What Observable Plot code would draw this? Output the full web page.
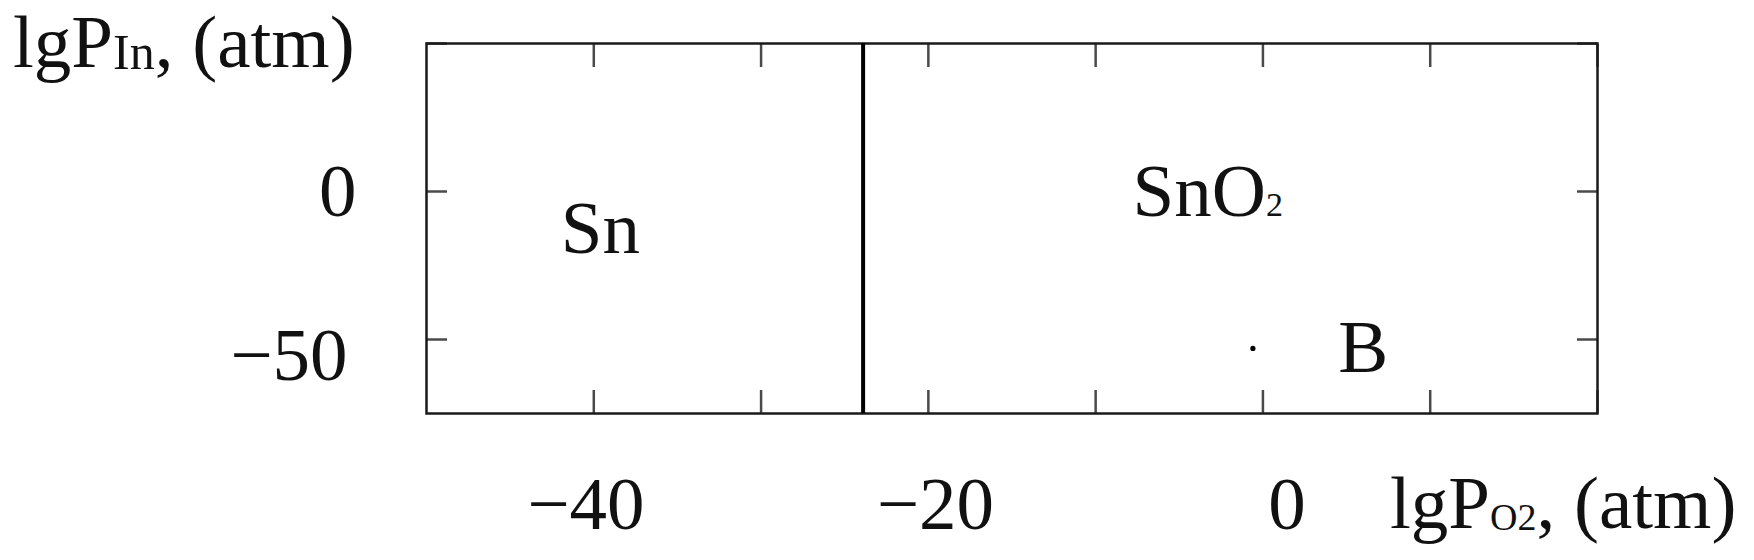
<!DOCTYPE html>
<html>
<head>
<meta charset="utf-8">
<script src="https://cdn.jsdelivr.net/npm/d3@7"></script>
<script src="https://cdn.jsdelivr.net/npm/@observablehq/plot@0.6"></script>
<style>
  html, body { margin: 0; padding: 0; background: #fff; }
  #chart svg { display: block; }
</style>
</head>
<body>
<div id="chart"></div>
<script>
// ---- data ----
const xDomain = [-50, 20];          // lg P(O2), atm
const yDomain = [-75, 50];          // lg P(In), atm
const xTickValues = [-40, -30, -20, -10, 0, 10, 20];
const yTickValues = [-50, 0, 50];
const boundaryX = [-23.9];          // Sn / SnO2 phase boundary
const pointName = ["B"];
const pointX = [-0.6];
const pointY = [-53];
const labelPointX = [6.0];
const labelPointY = [-53];
const regionNames = ["Sn", "SnO2"];
const regionX = [-39.6, -3.3];
const regionY = [-12.8, 0];

const points = pointName.map((n, i) => ({name: n, x: pointX[i], y: pointY[i], lx: labelPointX[i], ly: labelPointY[i]}));
const regions = regionNames.map((n, i) => ({name: n, x: regionX[i], y: regionY[i]}));

const tickStyle = {stroke: "#4a4a4a", strokeWidth: 2.5, tickFormat: () => ""};

const plot = Plot.plot({
  width: 1754,
  height: 560,
  marginLeft: 426,
  marginRight: 157,
  marginTop: 43,
  marginBottom: 147,
  x: {domain: xDomain},
  y: {domain: yDomain},
  style: {fontFamily: "'Liberation Serif', 'Times New Roman', serif", fontSize: "75px", color: "#111", background: "#fff"},
  marks: [
    // inward ticks on all four sides
    Plot.axisX(xTickValues, {anchor: "bottom", tickSize: -23, ...tickStyle}),
    Plot.axisX(xTickValues, {anchor: "top", tickSize: -23, ...tickStyle}),
    Plot.axisY(yTickValues, {anchor: "left", tickSize: -21, ...tickStyle}),
    Plot.axisY(yTickValues, {anchor: "right", tickSize: -21, ...tickStyle}),
    // tick labels
    Plot.axisX([-40], {anchor: "bottom", tickSize: 0, tickPadding: 62, dx: -8, fill: "#111"}),
    Plot.axisX([-20], {anchor: "bottom", tickSize: 0, tickPadding: 62, dx: 7, fill: "#111"}),
    Plot.axisX([0], {anchor: "bottom", tickSize: 0, tickPadding: 62, dx: 24, fill: "#111"}),
    Plot.axisY([0], {anchor: "left", tickSize: 0, tickPadding: 70, fill: "#111"}),
    Plot.axisY([-50], {anchor: "left", tickSize: 0, tickPadding: 79, dy: 16, fill: "#111"}),
    Plot.frame({stroke: "#1a1a1a", strokeWidth: 2.5}),
    Plot.ruleX(boundaryX, {stroke: "#000", strokeWidth: 4}),
    Plot.dot(points, {x: "x", y: "y", r: 2.6, fill: "#000", stroke: "none"}),
    Plot.text(points, {x: "lx", y: "ly", text: "name", fill: "#111", textAnchor: "middle", lineAnchor: "middle"}),
    Plot.text(regions, {x: "x", y: "y", text: "name", fill: "#111", textAnchor: "middle", lineAnchor: "middle"})
  ]
});

document.getElementById("chart").appendChild(plot);

const svg = d3.select(plot);

// subscript in chemical formula labels
svg.selectAll("text").each(function() {
  const t = d3.select(this);
  const s = this.textContent;
  const m = /^([A-Za-z]*[A-Za-z])(\d+)$/.exec(s);
  if (m && this.childElementCount === 0) {
    t.text(null);
    t.append("tspan").text(m[1]);
    t.append("tspan").attr("font-size", 34).text(m[2]);
  }
});

// axis titles with subscripts
function axisTitle(x, y, sub, subSize) {
  const t = svg.append("text")
    .attr("x", x).attr("y", y)
    .attr("text-anchor", "start")
    .attr("fill", "#111")
    .attr("font-size", 75);
  t.append("tspan").text("lgP");
  t.append("tspan").attr("font-size", subSize).attr("dy", 2).text(sub);
  t.append("tspan").attr("dy", -2).text(", (atm)");
}
axisTitle(13, 67, "In", 50);
axisTitle(1390, 528, "O2", 38);
</script>
</body>
</html>
